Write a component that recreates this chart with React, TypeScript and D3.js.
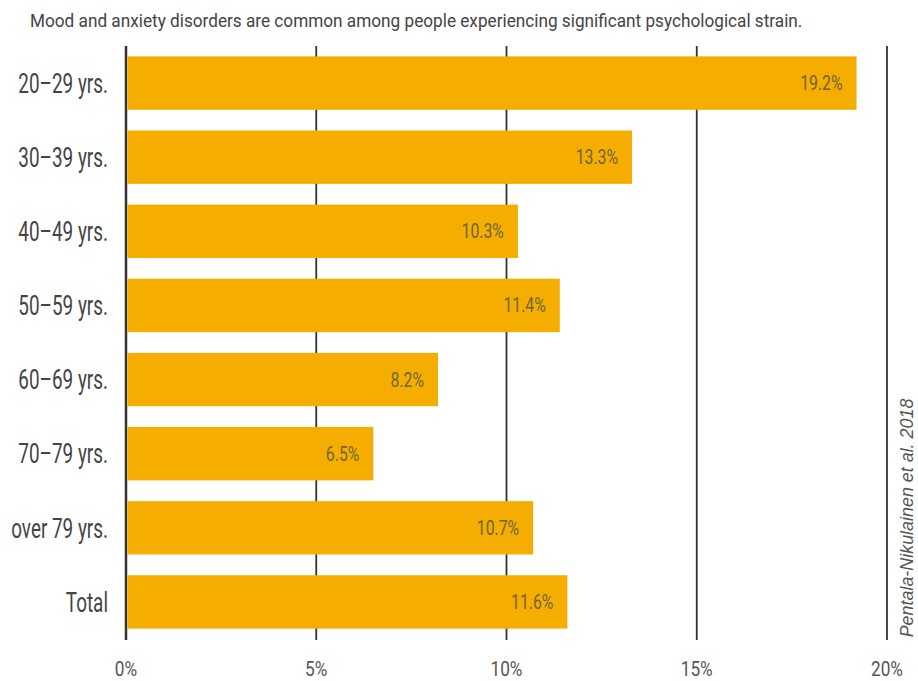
import React, { useEffect, useRef } from "react";
import * as d3 from "d3";

const categories = ["20–29 yrs.", "30–39 yrs.", "40–49 yrs.", "50–59 yrs.", "60–69 yrs.", "70–79 yrs.", "over 79 yrs.", "Total"];
const values = [19.2, 13.3, 10.3, 11.4, 8.2, 6.5, 10.7, 11.6];
const tickValues = [0, 5, 10, 15, 20];
const subtitle = "Mood and anxiety disorders are common among people experiencing significant psychological strain.";
const source = "Pentala-Nikulainen et al. 2018";

const W = 918;
const H = 681;
const FONT = "Roboto, 'Noto Sans', sans-serif";

export default function App() {
  const ref = useRef<SVGSVGElement>(null);
  useEffect(() => {
    const svg = d3.select(ref.current);
    svg.selectAll("*").remove();
    const x = d3.scaleLinear().domain([0, 20]).range([126, 887]);
    const y = d3.scaleBand<string>().domain(categories).range([46, 639]).paddingInner(0.28).paddingOuter(0.14);

    svg.append("text").attr("transform", "translate(30,27) scale(0.905,1)").attr("font-family", FONT).attr("font-size", 19)
      .attr("fill", "#444").text(subtitle);

    svg.append("g").selectAll("line").data(tickValues).join("line")
      .attr("x1", d => x(d)).attr("x2", d => x(d)).attr("y1", 46).attr("y2", 640)
      .attr("stroke", "#333").attr("stroke-width", d => d === 0 ? 2.5 : 1.8);

    const data = categories.map((c, i) => ({ c, v: values[i] }));
    svg.append("g").selectAll("rect").data(data).join("rect")
      .attr("x", x(0) + 1.5).attr("y", d => y(d.c)!).attr("height", y.bandwidth())
      .attr("width", d => x(d.v) - x(0) - 1.5).attr("fill", "#F5AE00");

    svg.append("g").selectAll("text").data(data).join("text")
      .attr("transform", d => `translate(${x(d.v) - 14},${y(d.c)! + y.bandwidth() / 2}) scale(0.81,1)`)
      .attr("dy", "0.36em").attr("text-anchor", "end").attr("font-family", FONT)
      .attr("font-size", 19.5).attr("fill", "#6e6538").text(d => d.v.toFixed(1) + "%");

    svg.append("g").selectAll("text").data(categories).join("text")
      .attr("transform", d => `translate(108,${y(d)! + y.bandwidth() / 2}) scale(0.70,1)`).attr("dy", "0.36em")
      .attr("text-anchor", "end").attr("font-family", FONT).attr("font-size", 27)
      .attr("fill", "#444").text(d => d);

    svg.append("g").selectAll("text").data(tickValues).join("text")
      .attr("transform", d => `translate(${x(d)},676) scale(0.82,1)`).attr("text-anchor", "middle").attr("font-family", FONT)
      .attr("font-size", 21).attr("fill", "#555").text(d => d + "%");

    svg.append("text").attr("transform", `translate(913,518) rotate(-90)`).attr("text-anchor", "middle")
      .attr("font-family", "'Liberation Sans', sans-serif").attr("font-style", "italic").attr("font-size", 17.9)
      .attr("fill", "#555").text(source);
  }, []);
  return (
    <svg ref={ref} width={W} height={H} style={{ position: "absolute", left: 0, top: 0, background: "#fff" }} />
  );
}
